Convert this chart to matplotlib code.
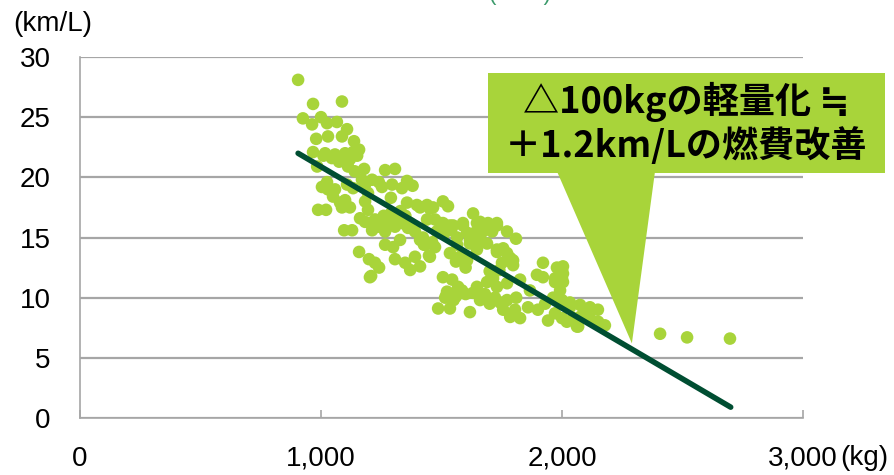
import matplotlib
matplotlib.use("Agg")
import matplotlib.pyplot as plt
from matplotlib.patches import Polygon

# ---- data ----
weight_kg = [905, 967, 1087, 925, 1000, 1025, 1066, 963, 1108, 980, 1029, 1087, 1137, 1158, 967,
             1017, 1058, 1100, 1133, 984, 1112, 1179, 1266, 1307, 1357, 1025, 1004, 1029, 1058, 1108,
             1133, 1183, 1212, 1253, 1295, 1336, 1050, 1100, 1079, 1183, 1195, 1290, 1357, 988, 1021,
             1087, 1120, 1195, 1398, 1440, 1162, 1183, 1224, 1237, 1274, 1307, 1336, 1361, 1390, 1096,
             1129, 1212, 1266, 1328, 1266, 1299, 1423, 1432, 1461, 1158, 1199, 1224, 1241, 1208, 1307,
             1349, 1370, 1390, 1411, 1448, 1506, 1527, 1465, 1631, 1473, 1506, 1548, 1589, 1660, 1693,
             1730, 1772, 1809, 1565, 1606, 1639, 1672, 1710, 1461, 1473, 1618, 1660, 1689, 1535, 1577,
             1606, 1647, 1730, 1772, 1797, 1751, 1797, 1921, 1979, 2000, 1452, 1506, 1544, 1714, 1689,
             1896, 1921, 1971, 2000, 1569, 1647, 1730, 1772, 1523, 1565, 1585, 1486, 1535, 1631, 1660,
             1722, 1743, 1772, 1756, 1785, 1826, 1805, 1859, 1992, 1971, 1992, 1963, 2000, 1942, 1971,
             2000, 2033, 2062, 2075, 2004, 2004, 2004, 2033, 2075, 2116, 2149, 2046, 2116, 2067, 2178,
             2407, 2519, 2697, 1411, 1452, 1203, 1203, 1257, 1315, 1369, 1440, 1494, 1535, 1589, 1647,
             1689, 1730, 1411, 1427, 1565, 1618, 1647, 1730, 1756, 1785, 1515, 1560, 1826, 1867, 1618,
             1010, 1045, 1075, 1120, 1150, 1140, 1170, 1240, 1380, 1260, 1290, 1330, 1350, 1480, 1510,
             1540, 1560, 1600, 1700, 1740, 1520, 1550, 1600, 1680, 1700, 1810, 1900, 1930, 2090, 2150,
             2020]
fuel_km_l = [28.1, 26.1, 26.3, 24.9, 25.0, 24.5, 24.6, 24.4, 24.0, 23.2, 23.4, 23.4, 23.0, 22.3, 22.1,
             22.0, 21.9, 22.0, 22.1, 20.9, 20.9, 20.7, 20.6, 20.7, 19.7, 19.6, 19.2, 19.0, 19.0, 19.4,
             19.1, 19.4, 19.8, 19.2, 19.4, 19.1, 18.4, 18.1, 17.9, 18.0, 18.7, 18.3, 17.9, 17.3, 17.3,
             17.5, 17.5, 17.3, 17.7, 17.7, 16.6, 16.3, 16.5, 15.9, 16.3, 15.9, 16.2, 15.8, 15.5, 15.6,
             15.6, 15.6, 15.5, 14.8, 14.4, 14.2, 15.0, 14.4, 14.6, 13.8, 13.2, 12.9, 12.5, 11.8, 13.2,
             12.9, 12.3, 13.4, 12.6, 13.5, 18.0, 17.6, 17.5, 17.0, 16.5, 16.2, 16.0, 16.0, 16.3, 16.2,
             16.0, 15.5, 14.9, 15.0, 15.4, 15.4, 15.5, 15.5, 14.5, 14.2, 14.5, 14.8, 14.5, 13.7, 13.4,
             13.1, 14.0, 14.0, 13.7, 13.1, 12.9, 12.7, 12.9, 12.5, 12.3, 13.4, 11.7, 11.5, 11.6, 11.3,
             11.9, 11.7, 11.6, 11.6, 10.9, 10.9, 10.9, 11.2, 10.5, 10.6, 10.6, 9.1, 9.1, 10.4, 9.8,
             10.0, 9.6, 9.8, 9.0, 8.4, 8.3, 9.0, 9.2, 11.7, 11.3, 10.6, 10.0, 9.8, 8.1, 8.7,
             8.3, 9.2, 7.6, 8.4, 12.6, 12.0, 11.3, 9.6, 9.4, 9.2, 9.0, 8.3, 8.3, 7.6, 7.7,
             7.0, 6.7, 6.6, 17.5, 17.4, 11.7, 16.2, 16.2, 16.5, 16.2, 16.5, 16.2, 16.0, 16.2, 16.2,
             16.0, 16.2, 14.8, 14.4, 14.4, 14.8, 14.4, 13.8, 14.1, 13.3, 10.0, 10.1, 11.5, 10.6, 8.8,
             21.8, 21.6, 21.3, 21.5, 21.8, 20.5, 19.8, 19.6, 19.3, 16.8, 17.0, 17.2, 16.8, 15.5, 15.3,
             15.6, 13.0, 12.5, 12.2, 12.3, 10.2, 9.8, 10.3, 10.3, 9.5, 10.0, 9.0, 9.5, 8.8, 8.0,
             8.0]

trend_x = [905, 2700]
trend_y = [22.0, 0.9]

x_ticks = [0, 1000, 2000, 3000]
x_labels = ["0", "1,000", "2,000", "3,000"]
y_ticks = [0, 5, 10, 15, 20, 25, 30]

callout_lines = ["△100kgの軽量化 ≒", "＋1.2km/Lの燃費改善"]

# ---- styling ----
GREEN = "#A8D43A"
DARK = "#004E32"
GRID = "#A6A6A6"
FS = 20
plt.rcParams['font.family'] = ['Liberation Sans', 'DejaVu Sans']

fig = plt.figure(figsize=(8.94, 4.75), dpi=100)
ax = fig.add_axes([80 / 894, 1 - 418 / 475, (803 - 80) / 894, (418 - 57) / 475])

ax.scatter(weight_kg, fuel_km_l, s=82, color=GREEN, edgecolors='none', zorder=3)
ax.plot(trend_x, trend_y, color=DARK, lw=4.0, solid_capstyle='round', zorder=4)

ax.set_xlim(0, 3000)
ax.set_ylim(0, 30)
ax.set_xticks(x_ticks)
ax.set_xticklabels(x_labels)
ax.set_yticks(y_ticks)
ax.yaxis.grid(True, color=GRID, lw=1.6, zorder=0)
ax.set_axisbelow(True)
for s in ['top', 'right']:
    ax.spines[s].set_visible(False)
for s in ['left', 'bottom']:
    ax.spines[s].set_color(GRID)
    ax.spines[s].set_linewidth(1.2)
ax.tick_params(axis='x', direction='in', length=6, width=1.2, color=GRID, pad=20,
               labelsize=FS)
ax.tick_params(axis='y', length=0, pad=21, labelsize=FS)

# unit labels
fig.text(13 / 894, 1 - 24 / 475, "(km/L)", fontsize=FS, ha='left', va='center')
fig.text(840 / 894, 1 - 458 / 475, "(kg)", fontsize=FS, ha='left', va='center')
# cut-off title fragment at the very top (as in the reference)
fig.text(520 / 894, 1 + 6 / 475, "(2011)", fontsize=16, color="#3B9A6B", ha='center', va='center')

# callout box with pointer
bx0, bx1, by0, by1 = 1693, 3340, 20.4, 28.7
tip = (2290, 6.2)
box = Polygon([(bx0, by0), (bx0, by1), (bx1, by1), (bx1, by0)], closed=True,
              facecolor=GREEN, edgecolor='none', clip_on=False, zorder=5)
ptr = Polygon([(1979, by0 + 0.1), (2386, by0 + 0.1), tip], closed=True,
              facecolor=GREEN, edgecolor='none', clip_on=False, zorder=5)
ax.add_patch(box)
ax.add_patch(ptr)
cx = (bx0 + bx1) / 2
ax.text(cx, 26.3, callout_lines[0], fontsize=26, fontweight='bold', ha='center', va='center',
        family=['Noto Sans CJK JP', 'DejaVu Sans'], zorder=6, clip_on=False)
ax.text(cx, 22.6, callout_lines[1], fontsize=26, fontweight='bold', ha='center', va='center',
        family=['Noto Sans CJK JP', 'DejaVu Sans'], zorder=6, clip_on=False)

fig.savefig("out.png", dpi=100)
